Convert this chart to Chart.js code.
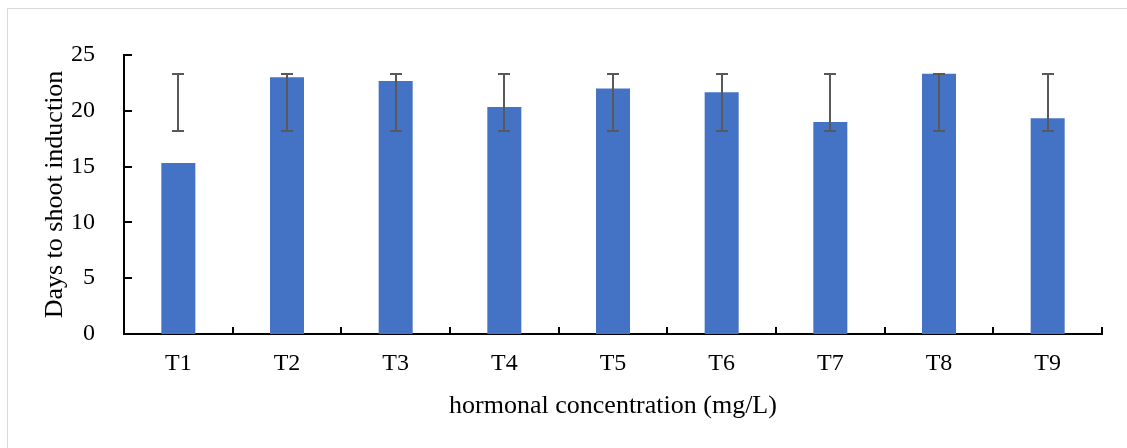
<!DOCTYPE html>
<html><head><meta charset="utf-8">
<script src="https://cdn.jsdelivr.net/npm/chart.js@4"></script>
<style>
html,body{margin:0;padding:0;background:#fff;}
#wrap{position:relative;width:1127px;height:448px;overflow:hidden;}
#frame{position:absolute;left:7px;top:8px;width:1130px;height:460px;border:1px solid #d9d9d9;box-sizing:border-box;}
canvas{position:absolute;left:0;top:0;}
</style></head>
<body><div id="wrap"><div id="frame"></div><canvas id="c" width="1127" height="448"></canvas></div>
<script>
const categories = ['T1','T2','T3','T4','T5','T6','T7','T8','T9'];
const meanDays = [15.33, 23.0, 22.67, 20.33, 22.0, 21.67, 19.0, 23.33, 19.33];
const errLow = [18.2, 18.2, 18.2, 18.2, 18.2, 18.2, 18.2, 18.2, 18.2];
const errHigh = [23.3, 23.3, 23.3, 23.3, 23.3, 23.3, 23.3, 23.3, 23.3];
const yTicks = [0, 5, 10, 15, 20, 25];

const FONT = "'Liberation Serif', 'DejaVu Serif', serif";

const errorBarPlugin = {
  id: 'errorBars',
  afterDatasetsDraw(chart) {
    const ctx = chart.ctx;
    const x = chart.scales.x, y = chart.scales.y;
    ctx.save();
    ctx.strokeStyle = '#595959';
    ctx.lineWidth = 2;
    categories.forEach((c, i) => {
      const px = Math.round(x.getPixelForValue(i));
      const top = Math.round(y.getPixelForValue(errHigh[i]));
      const bot = Math.round(y.getPixelForValue(errLow[i]));
      ctx.beginPath();
      ctx.moveTo(px, top); ctx.lineTo(px, bot);
      ctx.moveTo(px - 6, top); ctx.lineTo(px + 6, top);
      ctx.moveTo(px - 6, bot); ctx.lineTo(px + 6, bot);
      ctx.stroke();
    });
    ctx.restore();
  }
};

const innerTicksPlugin = {
  id: 'innerTicks',
  afterDraw(chart) {
    const ctx = chart.ctx;
    const x = chart.scales.x, y = chart.scales.y;
    const a = chart.chartArea;
    ctx.save();
    ctx.strokeStyle = '#000';
    ctx.lineWidth = 2;
    ctx.beginPath();
    yTicks.forEach(v => {
      const py = Math.round(y.getPixelForValue(v));
      ctx.moveTo(a.left, py); ctx.lineTo(a.left + 8, py);
    });
    for (let i = 0; i <= categories.length; i++) {
      const px = Math.round(x.getPixelForValue(i - 0.5));
      ctx.moveTo(px, a.bottom); ctx.lineTo(px, a.bottom - 7);
    }
    ctx.stroke();
    ctx.restore();
  }
};

new Chart(document.getElementById('c'), {
  type: 'bar',
  data: {
    labels: categories,
    datasets: [{
      data: meanDays,
      backgroundColor: '#4472C4',
      borderWidth: 0,
      barPercentage: 0.313,
      categoryPercentage: 1.0
    }]
  },
  options: {
    responsive: false,
    animation: false,
    devicePixelRatio: 1,
    layout: { padding: { left: 39.4, right: 25, top: 55, bottom: 26.4 } },
    plugins: { legend: { display: false }, tooltip: { enabled: false } },
    scales: {
      x: {
        grid: { display: false },
        border: { display: true, color: '#000', width: 2 },
        ticks: { color: '#000', font: { family: FONT, size: 24 }, padding: 7 },
        title: { display: true, text: 'hormonal concentration (mg/L)', color: '#000', font: { family: FONT, size: 26 }, padding: 0 },
        afterFit(s) { s.height = 87.6; }
      },
      y: {
        min: 0, max: 25,
        grid: { display: false },
        border: { display: true, color: '#000', width: 2 },
        ticks: { stepSize: 5, color: '#000', font: { family: FONT, size: 24 }, padding: 21 },
        title: { display: true, text: 'Days to shoot induction', color: '#000', font: { family: FONT, size: 26 }, padding: 0 },
        afterFit(s) { s.width = 84.6; }
      }
    }
  },
  plugins: [errorBarPlugin, innerTicksPlugin]
});
</script></body></html>
